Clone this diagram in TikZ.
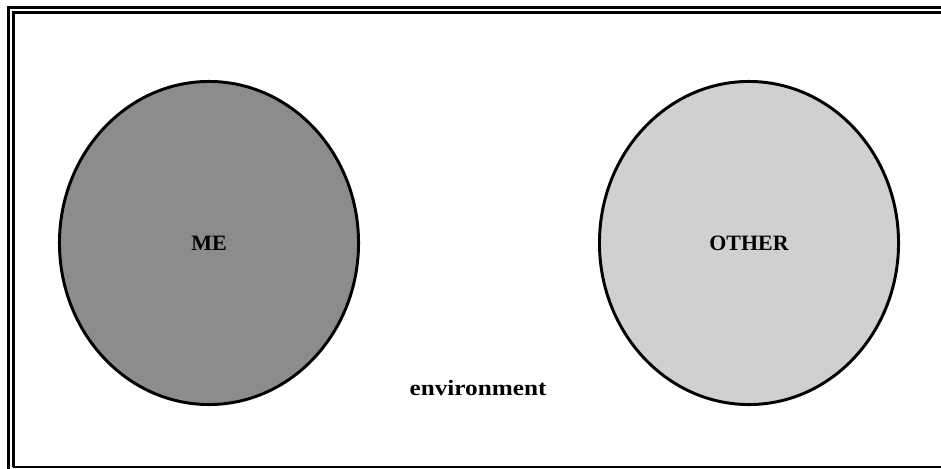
\documentclass[tikz,border=0pt]{standalone}
\usepackage{fontspec}
\setmainfont{Liberation Serif}
\usepackage{tikz}
\usetikzlibrary{shapes.geometric}
\definecolor{mydark}{RGB}{0,0,0}
\definecolor{megray}{RGB}{140,140,140}
\definecolor{othergray}{RGB}{208,208,208}
\tikzset{
  selfarea/.style={ellipse, draw=mydark, line width=2.1pt,
    minimum width=7.475cm, minimum height=8.075cm, inner sep=0pt,
    font=\fontsize{15.6}{18}\selectfont\bfseries},
  frameline/.style={draw=mydark, line width=2.1pt},
  envlabel/.style={font=\fontsize{15.6}{18}\selectfont\bfseries,
    xscale=1.15, transform shape, inner sep=0pt}
}
\begin{document}
\begin{tikzpicture}[x=0.025cm, y=-0.025cm]
  \useasboundingbox (0,0) rectangle (941,468);
  \fill[white] (0,0) rectangle (941,468);

  % Double frame (cut at the right and bottom)
  \draw[frameline] (8.5,470) -- (8.5,7.5) -- (945,7.5);
  \draw[frameline] (13.5,467) -- (13.5,12.5) -- (945,12.5);
  \draw[draw=mydark, line width=1.4pt] (12.5,467) -- (945,467);

  % The two areas
  \node[selfarea, fill=megray] (me) at (209,243) {ME};
  \node[selfarea, fill=othergray] (other) at (749,243) {OTHER};

  % Surrounding
  \node[envlabel] (env) at (478,388) {environment};
\end{tikzpicture}
\end{document}
